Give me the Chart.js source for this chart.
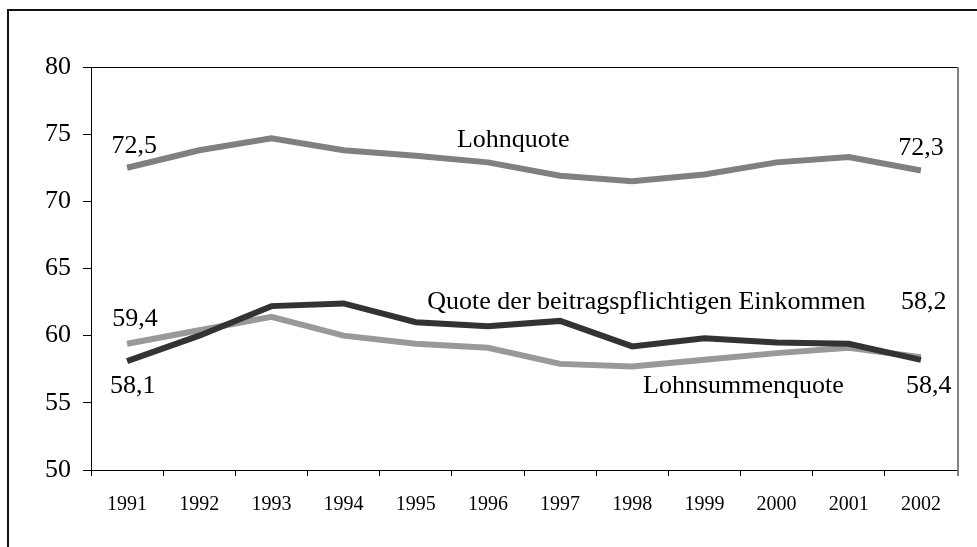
<!DOCTYPE html>
<html>
<head>
<meta charset="utf-8">
<script src="https://cdn.jsdelivr.net/npm/chart.js@4.4.0/dist/chart.umd.min.js"></script>
<style>
  html, body { margin: 0; padding: 0; background: #fff; overflow: hidden; }
  #wrap { position: relative; width: 977px; height: 547px; }
  #frame { position: absolute; left: 7px; top: 9px; width: 990px; height: 560px; border: 2px solid #111; box-sizing: border-box; pointer-events: none; }
  canvas { position: absolute; left: 0; top: 0; }
</style>
</head>
<body>
<div id="wrap">
  <canvas id="c" width="977" height="547"></canvas>
  <div id="frame"></div>
</div>
<script>
const categories = ['1991','1992','1993','1994','1995','1996','1997','1998','1999','2000','2001','2002'];
const lohnquote = [72.5, 73.8, 74.7, 73.8, 73.4, 72.9, 71.9, 71.5, 72.0, 72.9, 73.3, 72.3];
const beitragsQuote = [58.1, 60.0, 62.2, 62.4, 61.0, 60.7, 61.1, 59.2, 59.8, 59.5, 59.4, 58.2];
const lohnsummenquote = [59.4, 60.4, 61.4, 60.0, 59.4, 59.1, 57.9, 57.7, 58.2, 58.7, 59.1, 58.4];
const yTicks = [50, 55, 60, 65, 70, 75, 80];

// text labels in the chart
const labelTexts = ['72,5', 'Lohnquote', '72,3', '59,4', '58,1', 'Quote der beitragspflichtigen Einkommen', '58,2', 'Lohnsummenquote', '58,4'];
// placement: category index (fractional), value of baseline, alignment
const labelPlacement = [
  { x: 0.1,  y: 73.6,  align: 'center' },
  { x: 4.57, y: 74.05, align: 'left' },
  { x: 11.0, y: 73.45, align: 'center' },
  { x: 0.11, y: 60.72, align: 'center' },
  { x: 0.08, y: 55.73, align: 'center' },
  { x: 4.16, y: 61.99, align: 'left' },
  { x: 11.04, y: 61.99, align: 'center' },
  { x: 7.15, y: 55.73, align: 'left' },
  { x: 11.11, y: 55.73, align: 'center' }
];

const FONT = '"Liberation Serif", "Times New Roman", serif';

const decor = {
  id: 'decor',
  afterDraw(chart) {
    const ctx = chart.ctx, a = chart.chartArea;
    const xs = chart.scales.x, ys = chart.scales.y;
    ctx.save();
    // top border of plot
    ctx.strokeStyle = '#000'; ctx.lineWidth = 1;
    ctx.beginPath(); ctx.moveTo(a.left, a.top + 0.5); ctx.lineTo(a.right, a.top + 0.5); ctx.stroke();
    // right border of plot (gray)
    ctx.strokeStyle = '#808080'; ctx.lineWidth = 2;
    ctx.beginPath(); ctx.moveTo(a.right + 1, a.top); ctx.lineTo(a.right + 1, a.bottom + 6); ctx.stroke();
    // labels
    ctx.fillStyle = '#000';
    ctx.font = '26px ' + FONT;
    ctx.textBaseline = 'alphabetic';
    const step = xs.getPixelForValue(1) - xs.getPixelForValue(0);
    labelTexts.forEach((t, i) => {
      const p = labelPlacement[i];
      const px = xs.getPixelForValue(0) + p.x * step;
      const py = ys.getPixelForValue(p.y);
      ctx.textAlign = p.align;
      ctx.fillText(t, px, py);
    });
    ctx.restore();
  }
};

new Chart(document.getElementById('c'), {
  type: 'line',
  data: {
    labels: categories,
    datasets: [
      { label: 'Lohnquote', data: lohnquote, borderColor: '#808080', borderWidth: 6, order: 3 },
      { label: 'Lohnsummenquote', data: lohnsummenquote, borderColor: '#999999', borderWidth: 6, order: 2 },
      { label: 'Quote der beitragspflichtigen Einkommen', data: beitragsQuote, borderColor: '#333333', borderWidth: 6, order: 1 }
    ]
  },
  options: {
    responsive: false,
    animation: false,
    devicePixelRatio: 1,
    layout: { padding: { left: 0, top: 67, right: 20, bottom: 0 } },
    elements: { point: { radius: 0 }, line: { tension: 0, borderCapStyle: 'butt', borderJoinStyle: 'miter' } },
    plugins: { legend: { display: false }, tooltip: { enabled: false }, title: { display: false } },
    scales: {
      x: {
        offset: true,
        grid: { display: true, drawOnChartArea: false, offset: true, tickLength: 6, color: '#000' },
        border: { display: true, color: '#000', width: 1 },
        ticks: { color: '#000', font: { family: FONT, size: 20 }, padding: 17, maxRotation: 0, autoSkip: false },
        afterFit(s) { s.height = 77; }
      },
      y: {
        min: 50, max: 80,
        afterBuildTicks(s) { s.ticks = yTicks.map(v => ({ value: v })); },
        grid: { display: true, drawOnChartArea: false, tickLength: 8, color: '#000' },
        border: { display: true, color: '#000', width: 1 },
        ticks: { color: '#000', font: { family: FONT, size: 26 }, padding: 12 },
        afterFit(s) { s.width = 91; }
      }
    }
  },
  plugins: [decor]
});
</script>
</body>
</html>
